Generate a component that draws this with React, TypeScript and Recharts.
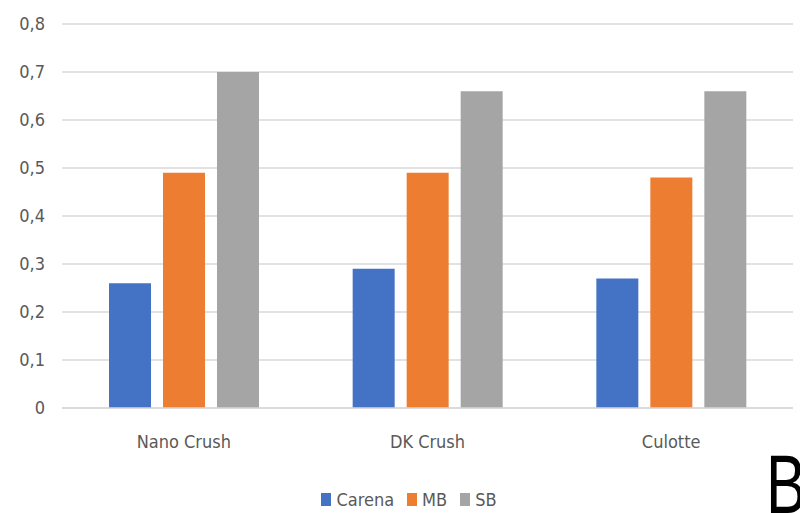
import { Bar, BarChart, CartesianGrid, XAxis, YAxis } from "recharts";

const categories = ["Nano Crush", "DK Crush", "Culotte"];
const carena = [0.26, 0.29, 0.27];
const mb = [0.49, 0.49, 0.48];
const sb = [0.7, 0.66, 0.66];
const yTicks = [0, 0.1, 0.2, 0.3, 0.4, 0.5, 0.6, 0.7, 0.8];

const series = [
  { key: "Carena", color: "#4472C4" },
  { key: "MB", color: "#ED7D31" },
  { key: "SB", color: "#A5A5A5" },
];

const data = categories.map((name, i) => ({
  name,
  Carena: carena[i],
  MB: mb[i],
  SB: sb[i],
}));

const FONT = "'Liberation Sans Narrow', 'DejaVu Sans Condensed', 'Open Sans', sans-serif";

// legend sits under the plot, like the Excel original
function ChartLegend() {
  return (
    <div
      style={{
        position: "absolute",
        top: 489,
        left: 0,
        width: 800,
        display: "flex",
        justifyContent: "center",
        alignItems: "center",
        fontFamily: FONT,
        fontSize: 18,
        color: "#595959",
        gap: 13,
        paddingLeft: 18,
        boxSizing: "border-box",
      }}
    >
      {series.map((s) => (
        <span key={s.key} style={{ display: "flex", alignItems: "center", gap: 5 }}>
          <span style={{ width: 10, height: 13, background: s.color, display: "inline-block" }} />
          {s.key}
        </span>
      ))}
    </div>
  );
}

export default function App() {
  return (
    <div
      style={{
        position: "absolute",
        top: 0,
        left: 0,
        width: 800,
        height: 513,
        background: "#fff",
        overflow: "hidden",
      }}
    >
      <BarChart
        width={800}
        height={513}
        data={data}
        margin={{ top: 24, right: 7, left: 0, bottom: 75 }}
        barCategoryGap={47}
        barGap={12}
      >
        <CartesianGrid stroke="#D9D9D9" strokeWidth={1.5} vertical={false} />
        <XAxis
          dataKey="name"
          axisLine={{ stroke: "#D9D9D9", strokeWidth: 1.5 }}
          tickLine={false}
          tickMargin={21}
          tick={{ fill: "#595959", fontSize: 18, fontFamily: FONT }}
        />
        <YAxis
          width={62}
          domain={[0, 0.8]}
          ticks={yTicks}
          axisLine={false}
          tickLine={false}
          tickSize={0}
          tickMargin={17}
          tickFormatter={(v: number) => (v === 0 ? "0" : v.toFixed(1).replace(".", ","))}
          tick={{ fill: "#595959", fontSize: 18, fontFamily: FONT }}
        />
        {series.map((s) => (
          <Bar key={s.key} dataKey={s.key} fill={s.color} isAnimationActive={false} />
        ))}
      </BarChart>
      <ChartLegend />
      <div
        style={{
          position: "absolute",
          left: 766,
          top: 442,
          fontFamily: "'Liberation Sans', Arial, sans-serif",
          fontSize: 84,
          lineHeight: 1,
          color: "#000",
          transform: "scaleX(0.72)",
          transformOrigin: "left top",
        }}
      >
        B
      </div>
    </div>
  );
}
